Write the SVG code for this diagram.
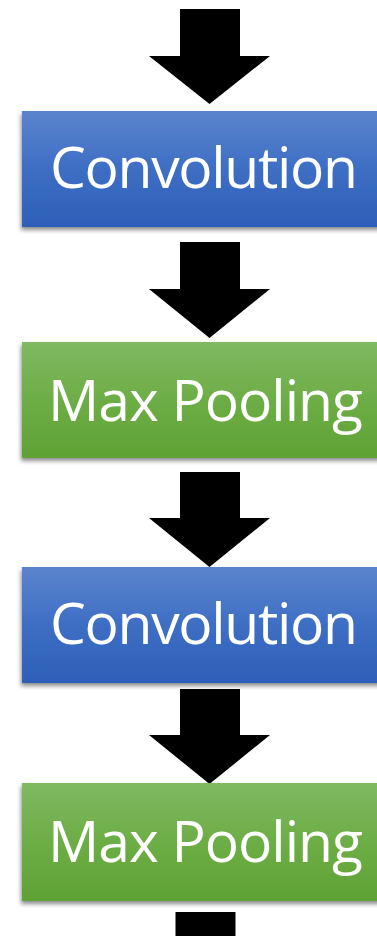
<svg xmlns="http://www.w3.org/2000/svg" width="377" height="936" viewBox="0 0 377 936">
  <style>
    .arrow { fill: #000000; }
    .label { font-family: "Open Sans", "Noto Sans", "Liberation Sans", sans-serif; font-size: 57px; fill: #ffffff; }
  </style>
  <defs>
    <linearGradient id="gBlue" x1="0" y1="0" x2="0" y2="1">
      <stop offset="0" stop-color="#5b84cd"/>
      <stop offset="0.5" stop-color="#3e6ec4"/>
      <stop offset="1" stop-color="#2e5fb8"/>
    </linearGradient>
    <linearGradient id="gGreen" x1="0" y1="0" x2="0" y2="1">
      <stop offset="0" stop-color="#7fb962"/>
      <stop offset="0.5" stop-color="#6dad46"/>
      <stop offset="1" stop-color="#5fa234"/>
    </linearGradient>
    <filter id="shadow" x="-10%" y="-10%" width="120%" height="130%">
      <feDropShadow dx="-1" dy="3" stdDeviation="2" flood-color="#000000" flood-opacity="0.45"/>
    </filter>
  </defs>
  <rect width="377" height="936" fill="#ffffff"/>

  <g id="connectors">
    <polygon class="arrow" points="180,9 240,9 240,56 270,56 209.5,104 149,56 180,56"/>
    <polygon class="arrow" points="180,242 240,242 240,289 270,289 209.5,338 149,289 180,289"/>
    <polygon class="arrow" points="180,472 240,472 240,518 270,518 209.5,567 149,518 180,518"/>
    <polygon class="arrow" points="180,689 240,689 240,735 270,735 209.5,784 149,735 180,735"/>
    <rect class="arrow" x="175.5" y="912" width="60" height="30"/>
  </g>

  <g id="node-conv1">
    <rect x="22" y="111" width="380" height="116" fill="url(#gBlue)" filter="url(#shadow)"/>
    <text class="label" x="50" y="188" textLength="308">Convolution</text>
  </g>

  <g id="node-pool1">
    <rect x="22" y="342" width="380" height="116" fill="url(#gGreen)" filter="url(#shadow)"/>
    <text class="label" x="48" y="421" textLength="315">Max Pooling</text>
  </g>

  <g id="node-conv2">
    <rect x="22" y="567" width="380" height="116" fill="url(#gBlue)" filter="url(#shadow)"/>
    <text class="label" x="50" y="644" textLength="308">Convolution</text>
  </g>

  <g id="node-pool2">
    <rect x="22" y="783" width="380" height="118" fill="url(#gGreen)" filter="url(#shadow)"/>
    <text class="label" x="48" y="862" textLength="315">Max Pooling</text>
  </g>
</svg>
